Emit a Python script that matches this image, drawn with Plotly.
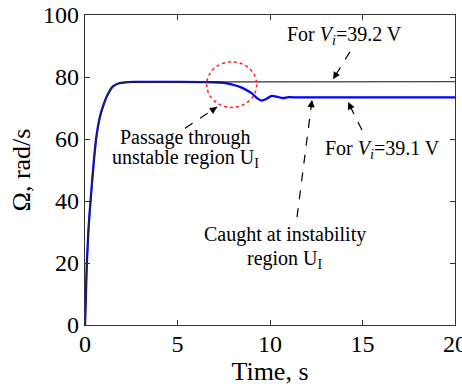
import plotly.graph_objects as go

# ---- data ----
t_rise = [0, 0.05, 0.1, 0.2, 0.3, 0.45, 0.6, 0.8, 1.0, 1.2, 1.5, 1.8, 2.2, 2.6, 3.0]
w_rise = [0, 10, 20, 32, 40, 51, 60, 67, 71, 74, 76.9, 77.9, 78.3, 78.4, 78.4]

t_392 = t_rise + [20]
w_392 = w_rise + [78.5]

t_391 = t_rise + [5, 7, 7.5, 8, 8.5, 9, 9.3, 9.55, 9.8, 10.1, 10.4, 10.7, 11, 11.5, 20]
w_391 = w_rise + [78.4, 78.3, 78.1, 77.5, 76.5, 74.8, 73.2, 72.4, 72.9, 73.9, 73.6, 73.2, 73.5, 73.4, 73.4]

x_ticks = [0, 5, 10, 15, 20]
y_ticks = [0, 20, 40, 60, 80, 100]

FONT = "Liberation Serif, Times New Roman, serif"

fig = go.Figure()
fig.add_trace(go.Scatter(x=t_391, y=w_391, mode="lines",
                         line=dict(color="#0000ff", width=2.3, shape="spline", smoothing=0.6),
                         showlegend=False, hoverinfo="skip"))
fig.add_trace(go.Scatter(x=t_392, y=w_392, mode="lines",
                         line=dict(color="rgba(40,40,50,0.85)", width=1.4, shape="spline", smoothing=0.6),
                         showlegend=False, hoverinfo="skip"))

# red dotted circle
fig.add_shape(type="circle", xref="x", yref="y", x0=6.58, x1=9.28, y0=70.2, y1=84.9,
              line=dict(color="#ff2020", width=1.5, dash="dot"))

# dashed arrows: (tail_x, tail_y, head_x, head_y, ax_px, ay_px)
arrows = [
    (14.32, 88.1, 13.41, 79.3, 4.7, -7.7),
    (5.41, 63.5, 7.14, 70.3, -7.5, 4.9),
    (14.97, 62.9, 14.22, 71.9, 4.0, 8.0),
    (11.46, 34.8, 12.27, 72.6, -1.1, 8.9),
]
for tx, ty, hx, hy, ax, ay in arrows:
    fig.add_shape(type="line", xref="x", yref="y", x0=tx, y0=ty, x1=hx, y1=hy,
                  line=dict(color="black", width=1.2, dash="dash"))
    fig.add_annotation(x=hx, y=hy, xref="x", yref="y", ax=ax, ay=ay, text="",
                       showarrow=True, arrowhead=2, arrowsize=1.2, arrowwidth=1.2,
                       arrowcolor="black", standoff=0)

texts = [
    (14.05, 93.5, "For <i>V</i><sub><i>i</i></sub>=39.2 V"),
    (5.41, 60.6, "Passage through"),
    (5.41, 53.6, "unstable region U<sub>I</sub>"),
    (16.1, 56.5, "For <i>V</i><sub><i>i</i></sub>=39.1 V"),
    (10.81, 29.2, "Caught at instability"),
    (10.81, 21.2, "region U<sub>I</sub>"),
]
for x, y, s in texts:
    fig.add_annotation(x=x, y=y, xref="x", yref="y", text=s, showarrow=False,
                       font=dict(family=FONT, size=20, color="black"),
                       xanchor="center", yanchor="middle")

axis_common = dict(showgrid=False, zeroline=False, showline=True, linecolor="#333",
                   linewidth=1.2, mirror="ticks", ticks="inside", ticklen=5,
                   tickcolor="#333", ticklabeloverflow="allow", automargin=False,
                   tickfont=dict(family=FONT, size=24, color="black"))

fig.update_xaxes(range=[0, 20], tickvals=x_ticks, ticktext=[str(v) for v in x_ticks],
                 ticklabelstandoff=-3,
                 title=dict(text="Time, s", font=dict(family=FONT, size=26, color="black"),
                            standoff=4),
                 **axis_common)
fig.update_yaxes(range=[0, 100], tickvals=y_ticks, ticktext=[str(v) for v in y_ticks],
                 title=dict(text="Ω, rad/s", font=dict(family=FONT, size=26, color="black"),
                            standoff=4),
                 **axis_common)

fig.update_layout(width=462, height=390, margin=dict(l=85, r=7, t=15, b=65),
                  plot_bgcolor="white", paper_bgcolor="white",
                  font=dict(family=FONT, color="black"))

fig.write_html("out.html")
